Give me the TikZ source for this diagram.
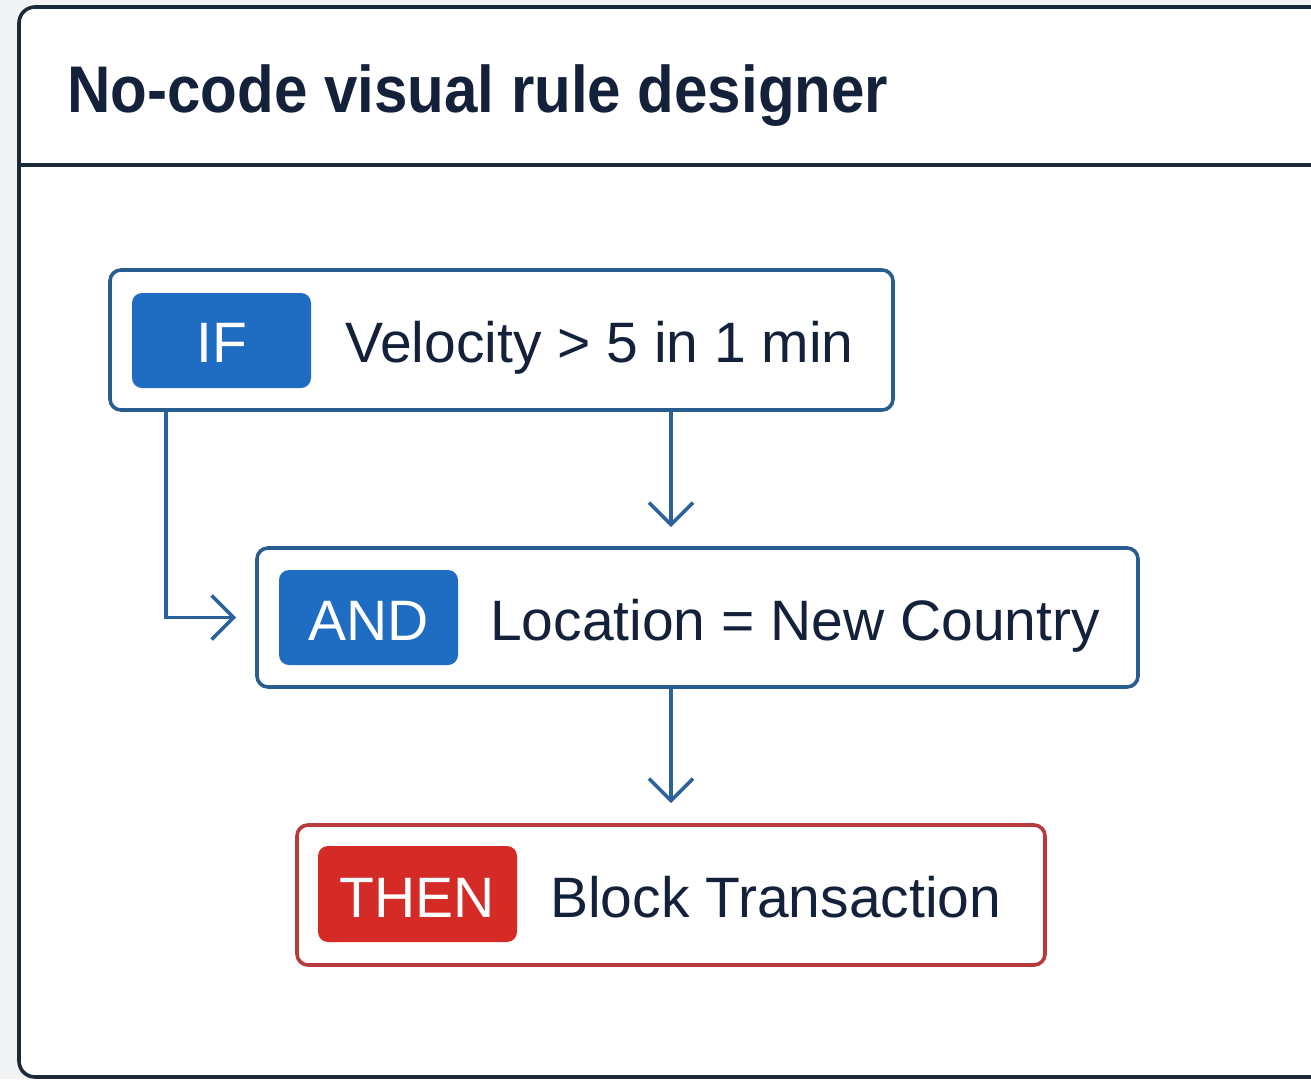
\documentclass[tikz,border=0pt]{standalone}
\usepackage{fontspec}
\setmainfont{Liberation Sans}
\newfontfamily\titlefam{Liberation Sans}[FakeStretch=0.91]
\usetikzlibrary{arrows.meta}

\definecolor{pagebg}{HTML}{F2F3F5}
\definecolor{framecol}{HTML}{1B2A3A}
\definecolor{ink}{HTML}{14213A}
\definecolor{steel}{HTML}{2A5D8F}
\definecolor{flowblue}{HTML}{2B629C}
\definecolor{badgeblue}{HTML}{1F6DC2}
\definecolor{rulered}{HTML}{B83A3A}
\definecolor{badgered}{HTML}{D42B27}

\begin{document}
\begin{tikzpicture}[x=1pt,y=-1pt,
  rulebox/.style={draw=steel, line width=3.6pt, fill=white, rounded corners=11pt,
    inner sep=0pt},
  thenbox/.style={rulebox, draw=rulered},
  badge/.style={fill=badgeblue, rounded corners=10pt, inner sep=0pt},
  redbadge/.style={badge, fill=badgered},
  bodytext/.style={font=\fontsize{57}{68}\selectfont, text=ink, inner sep=0pt},
  badgetext/.style={font=\fontsize{57}{68}\selectfont, text=white, inner sep=0pt},
  flow/.style={draw=flowblue, line width=3.6pt,
    -{Straight Barb[length=22pt,width=44pt]}}
]
% canvas and card
\useasboundingbox (0,0) rectangle (1311,1079);
\fill[pagebg] (0,0) rectangle (1311,1079);
\draw[framecol, line width=3.6pt, fill=white, rounded corners=16pt]
  (19,7) rectangle (1340,1077);
\draw[framecol, line width=3.6pt] (19,165) -- (1311,165);

% heading
\node[anchor=base west, inner sep=0pt, text=ink,
  font=\titlefam\bfseries\fontsize{66}{79}\selectfont] (title) at (67,112)
  {No-code visual rule designer};

% rule rows
\node[rulebox, minimum width=783pt, minimum height=140pt] (ifbox) at (501.5,340) {};
\node[rulebox, minimum width=881pt, minimum height=139pt] (andbox) at (697.5,617.5) {};
\node[thenbox, minimum width=748pt, minimum height=140pt] (thenbox) at (671,895) {};

% keyword badges
\node[badge, minimum width=179pt, minimum height=95pt] (ifbadge) at (221.5,340.5) {};
\node[badge, minimum width=179pt, minimum height=95pt] (andbadge) at (368.5,617.5) {};
\node[redbadge, minimum width=199pt, minimum height=96pt] (thenbadge) at (417.5,894) {};

\node[badgetext, anchor=base] (iflabel) at (221.5,362) {IF};
\node[badgetext, anchor=base] (andlabel) at (368.5,640) {AND};
\node[badgetext, anchor=base] (thenlabel) at (417.5,917) {THEN};

% conditions and action
\node[bodytext, anchor=base west] (cond1) at (345,362) {Velocity > 5 in 1 min};
\node[bodytext, anchor=base west] (cond2) at (490,640) {Location = New Country};
\node[bodytext, anchor=base west] (action) at (550,917) {Block Transaction};

% connectors
\draw[flow, shorten >=19pt] (ifbox.south -| thenbox.north) -- (andbox.north -| thenbox.north);
\draw[flow, shorten >=20pt] (andbox.south -| thenbox.north) -- (thenbox.north);
\draw[flow, shorten >=19pt] ([xshift=58pt]ifbox.south west) |- (andbox.west);
\end{tikzpicture}
\end{document}
